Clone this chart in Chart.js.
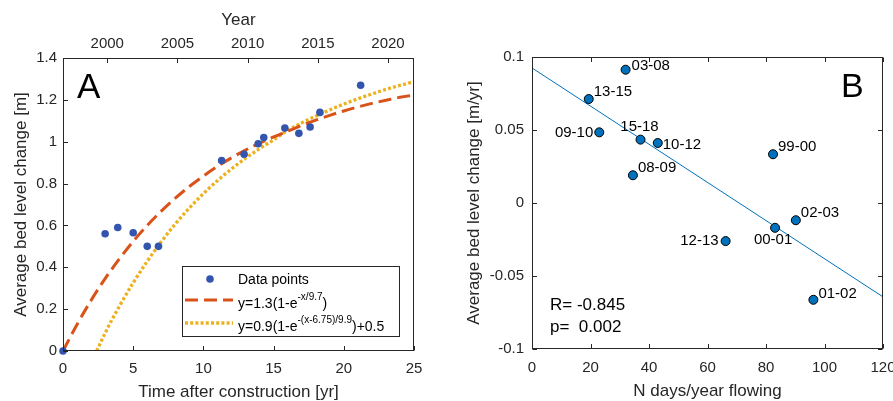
<!DOCTYPE html>
<html>
<head>
<meta charset="utf-8">
<script src="https://cdn.jsdelivr.net/npm/chart.js@4"></script>
<style>
  body { margin: 0; background: #fff; overflow: hidden; width: 893px; height: 401px; position: relative; }
  canvas { position: absolute; top: 0; }
  #chartA { left: 0; }
  #chartB { left: 445px; }
</style>
</head>
<body>
<canvas id="chartA" width="445" height="401"></canvas>
<canvas id="chartB" width="478" height="401"></canvas>
<script>
// Panel A - bed level change vs time after construction
const timeYears = [0, 3.0, 3.9, 5.0, 6.0, 6.8, 11.3, 12.9, 13.9, 14.3, 15.8, 16.8, 17.6, 18.3, 21.2];
const bedChange = [0, 0.56, 0.59, 0.565, 0.50, 0.50, 0.91, 0.94, 0.99, 1.02, 1.065, 1.04, 1.07, 1.14, 1.27];

// fitted curves
const fit1X = [0, 1, 2, 3, 4, 5, 6, 7, 8, 9, 10, 11, 12, 13, 14, 15, 16, 17, 18, 19, 20, 21, 22, 23, 24, 25];
const fit1Y = [0, 0.127, 0.242, 0.346, 0.439, 0.524, 0.600, 0.668, 0.730, 0.786, 0.836, 0.882, 0.923, 0.960,
               0.993, 1.023, 1.050, 1.078, 1.103, 1.126, 1.147, 1.166, 1.183, 1.198, 1.212, 1.223];
const fit2X = [2.4, 3, 4, 5, 6, 7, 8, 9, 10, 11, 12, 13, 14, 15, 16, 17, 18, 19, 20, 21, 22, 23, 24, 25];
const fit2Y = [0, 0.086, 0.212, 0.326, 0.429, 0.522, 0.607, 0.683, 0.752, 0.814, 0.870, 0.921, 0.967,
               1.009, 1.054, 1.090, 1.122, 1.152, 1.180, 1.205, 1.228, 1.250, 1.269, 1.287];

const xTicksA = [0, 5, 10, 15, 20, 25];
const yTicksA = [0, 0.2, 0.4, 0.6, 0.8, 1, 1.2, 1.4];
const yearTicks = [2000, 2005, 2010, 2015, 2020];

// Panel B - bed level change vs flow days
const pairLabels = ['03-08', '13-15', '09-10', '15-18', '10-12', '08-09', '99-00', '02-03', '00-01', '12-13', '01-02'];
const flowDays = [32.0, 19.4, 23.0, 37.1, 43.0, 34.5, 82.4, 90.2, 83.1, 66.2, 96.2];
const rateChange = [0.0913, 0.0712, 0.0484, 0.0434, 0.0411, 0.0190, 0.0334, -0.0118, -0.0170, -0.0261, -0.0663];
const regX = [0, 120];
const regY = [0.0925, -0.0643];

const xTicksB = [0, 20, 40, 60, 80, 100, 120];
const yTicksB = [-0.1, -0.05, 0, 0.05, 0.1];

const FONT = '"Liberation Sans", Arial, Helvetica, sans-serif';
const AXIS = '#262626';

// label placement next to each marker in panel B: [dx, dy, align]
const labelPlace = [[6, -4, 'left'], [5, -7, 'left'], [-6, 1, 'right'], [-1, -13, 'center'], [5, 2, 'left'],
                    [5, -7, 'left'], [5, -7, 'left'], [5, -7, 'left'], [-2, 12, 'center'], [-7, 0, 'right'], [5, -6, 'left']];

const fmt = v => String(+Number(v).toFixed(3));
const setTicks = list => s => { s.ticks = list.map(v => ({ value: v })); };

function axis(opts) {
  return Object.assign({
    type: 'linear',
    grid: { display: false, drawTicks: false, tickLength: 0 },
    border: { display: false },
  }, opts);
}

function tickFont() { return { family: FONT, size: 15 }; }
function titleFont() { return { family: FONT, size: 17, lineHeight: 1 }; }

// box around plot + inward ticks, MATLAB style
function drawFrame(chart, sides) {
  const { ctx, chartArea: a } = chart;
  const L = 4.5;
  const l = Math.round(a.left) + 0.5, r = Math.round(a.right) - 0.5;
  const t = Math.round(a.top) + 0.5, b = Math.round(a.bottom) - 0.5;
  ctx.save();
  ctx.strokeStyle = AXIS;
  ctx.lineWidth = 1;
  ctx.strokeRect(l, t, r - l, b - t);
  ctx.beginPath();
  sides.forEach(([id, side]) => {
    const s = chart.scales[id];
    s.ticks.forEach(tk => {
      const p = Math.round(s.getPixelForValue(tk.value)) + 0.5;
      if (side === 'bottom') { ctx.moveTo(p, b); ctx.lineTo(p, b - L); }
      if (side === 'top') { ctx.moveTo(p, t); ctx.lineTo(p, t + L); }
      if (side === 'left') { ctx.moveTo(l, p); ctx.lineTo(l + L, p); }
      if (side === 'right') { ctx.moveTo(r, p); ctx.lineTo(r - L, p); }
    });
  });
  ctx.stroke();
  ctx.restore();
}

// text with a superscript part
function drawRich(ctx, x, y, parts) {
  parts.forEach(([txt, sup]) => {
    ctx.font = (sup ? 10 : 14) + 'px ' + FONT;
    ctx.fillText(txt, x, sup ? y - 7 : y);
    x += ctx.measureText(txt).width;
  });
}

const panelA = {
  id: 'panelA',
  afterDraw(chart) {
    drawFrame(chart, [['x', 'bottom'], ['y', 'left'], ['x2', 'top']]);
    const ctx = chart.ctx;
    const ds = chart.data.datasets;
    ctx.save();
    ctx.fillStyle = '#000';
    ctx.font = '35px ' + FONT;
    ctx.textBaseline = 'middle';
    ctx.fillText('A', 77, 88);

    // legend
    ctx.fillStyle = '#fff';
    ctx.fillRect(182, 266, 217, 70);
    ctx.strokeStyle = AXIS;
    ctx.lineWidth = 1;
    ctx.strokeRect(182.5, 266.5, 217, 70);

    ctx.fillStyle = ds[0].backgroundColor;
    ctx.beginPath();
    ctx.arc(210, 279, ds[0].pointRadius, 0, Math.PI * 2);
    ctx.fill();

    [[ds[1], 300], [ds[2], 323]].forEach(([d, y]) => {
      ctx.strokeStyle = d.borderColor;
      ctx.lineWidth = d.borderWidth;
      ctx.setLineDash(d.borderDash);
      ctx.beginPath();
      ctx.moveTo(185, y);
      ctx.lineTo(233, y);
      ctx.stroke();
    });
    ctx.setLineDash([]);

    ctx.fillStyle = '#000';
    ctx.textAlign = 'left';
    drawRich(ctx, 238, 280, [['Data points', false]]);
    drawRich(ctx, 238, 304, [['y=1.3(1-e', false], ['-x/9.7', true], [')', false]]);
    drawRich(ctx, 238, 327, [['y=0.9(1-e', false], ['-(x-6.75)/9.9', true], [')+0.5', false]]);
    ctx.restore();
  }
};

const panelB = {
  id: 'panelB',
  afterDraw(chart) {
    drawFrame(chart, [['x', 'bottom'], ['x', 'top'], ['y', 'left'], ['y', 'right']]);
    const ctx = chart.ctx;
    const meta = chart.getDatasetMeta(0);
    ctx.save();
    ctx.fillStyle = '#000';
    ctx.textBaseline = 'middle';
    ctx.font = '15px ' + FONT;
    meta.data.forEach((pt, i) => {
      const [dx, dy, al] = labelPlace[i];
      ctx.textAlign = al;
      ctx.fillText(pairLabels[i], pt.x + dx, pt.y + dy);
    });
    ctx.textAlign = 'left';
    ctx.font = '17px ' + FONT;
    ctx.fillText('R= -0.845', 105, 305);
    ctx.fillText('p=  0.002', 105, 327);
    ctx.font = '34px ' + FONT;
    ctx.fillText('B', 396, 88);
    ctx.restore();
  }
};

new Chart(document.getElementById('chartA'), {
  type: 'scatter',
  data: {
    datasets: [{
      label: 'Data points',
      data: timeYears.map((x, i) => ({ x, y: bedChange[i] })),
      backgroundColor: '#3455AE',
      pointRadius: 3.8,
      pointBorderWidth: 0,
      clip: false
    }, {
      label: 'y=1.3(1-e^(-x/9.7))',
      data: fit1X.map((x, i) => ({ x, y: fit1Y[i] })),
      showLine: true,
      borderColor: '#D95319',
      borderWidth: 3,
      borderDash: [13, 6],
      pointRadius: 0,
      cubicInterpolationMode: 'monotone'
    }, {
      label: 'y=0.9(1-e^(-(x-6.75)/9.9))+0.5',
      data: fit2X.map((x, i) => ({ x, y: fit2Y[i] })),
      showLine: true,
      borderColor: '#EDB120',
      borderWidth: 3.3,
      borderDash: [3, 2.2],
      pointRadius: 0,
      cubicInterpolationMode: 'monotone'
    }]
  },
  options: {
    responsive: false,
    animation: false,
    layout: { padding: { left: 0, right: 31, top: 0, bottom: 0 } },
    plugins: { legend: { display: false }, tooltip: { enabled: false } },
    scales: {
      x: axis({
        position: 'bottom', min: 0, max: 25,
        afterBuildTicks: setTicks(xTicksA),
        afterFit: s => { s.height = 50; },
        ticks: { padding: 9, color: AXIS, font: tickFont(), maxRotation: 0, callback: fmt },
        title: { display: true, text: 'Time after construction [yr]', color: AXIS, font: titleFont(), padding: { top: 0, bottom: 0 } }
      }),
      x2: axis({
        position: 'top', min: 1996.85, max: 2021.85,
        afterBuildTicks: setTicks(yearTicks),
        afterFit: s => { s.height = 58; },
        ticks: { padding: 5, color: AXIS, font: tickFont(), maxRotation: 0, callback: fmt },
        title: { display: true, text: 'Year', color: AXIS, font: titleFont(), padding: { top: 11.5, bottom: 0 } }
      }),
      y: axis({
        position: 'left', min: 0, max: 1.4,
        afterBuildTicks: setTicks(yTicksA),
        afterFit: s => { s.width = 63; },
        ticks: { padding: 6, color: AXIS, font: tickFont(), callback: fmt },
        title: { display: true, text: 'Average bed level change [m]', color: AXIS, font: titleFont(), padding: { top: 12.5, bottom: 0 } }
      })
    }
  },
  plugins: [panelA]
});

new Chart(document.getElementById('chartB'), {
  type: 'scatter',
  data: {
    datasets: [{
      label: 'Years',
      data: flowDays.map((x, i) => ({ x, y: rateChange[i] })),
      backgroundColor: '#0072BD',
      borderColor: '#000',
      pointRadius: 4.5,
      pointBorderWidth: 1,
      clip: false
    }, {
      label: 'Regression',
      data: regX.map((x, i) => ({ x, y: regY[i] })),
      showLine: true,
      borderColor: '#0072BD',
      borderWidth: 1,
      pointRadius: 0
    }]
  },
  options: {
    responsive: false,
    animation: false,
    layout: { padding: { left: 0, right: 40, top: 57, bottom: 0 } },
    plugins: { legend: { display: false }, tooltip: { enabled: false } },
    scales: {
      x: axis({
        position: 'bottom', min: 0, max: 120,
        afterBuildTicks: setTicks(xTicksB),
        afterFit: s => { s.height = 52; },
        ticks: { padding: 10, color: AXIS, font: tickFont(), maxRotation: 0, callback: fmt },
        title: { display: true, text: 'N days/year flowing', color: AXIS, font: titleFont(), padding: { top: 0, bottom: 1.5 } }
      }),
      y: axis({
        position: 'left', min: -0.1, max: 0.1,
        afterBuildTicks: setTicks(yTicksB),
        afterFit: s => { s.width = 87; },
        ticks: { padding: 8, color: AXIS, font: tickFont(), callback: fmt },
        title: { display: true, text: 'Average bed level change [m/yr]', color: AXIS, font: titleFont(), padding: { top: 20.5, bottom: 0 } }
      })
    }
  },
  plugins: [panelB]
});
</script>
</body>
</html>
